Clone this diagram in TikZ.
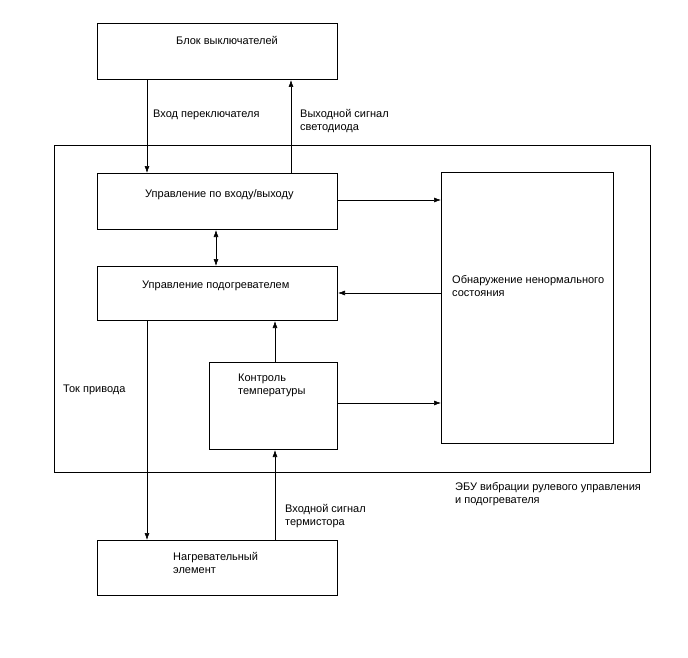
\documentclass[tikz,border=0pt]{standalone}
\usepackage{fontspec}
\setmainfont{Liberation Sans}
\usetikzlibrary{arrows.meta}
\begin{document}
\begin{tikzpicture}[x=1pt,y=-1pt,
  box/.style={draw,line width=1pt},
  conn/.style={line width=0.6pt},
  arr/.style={conn,-{Latex[length=7pt,width=5pt]}},
  darr/.style={conn,{Latex[length=7pt,width=5pt]}-{Latex[length=7pt,width=5pt]}},
  lbl/.style={font=\fontsize{11}{13}\selectfont,inner sep=0pt,align=left,anchor=base west},
  every node/.style={inner sep=0pt}]
\useasboundingbox (0,0) rectangle (688,658);
% boxes
\node[box,minimum width=240pt,minimum height=56pt,anchor=north west] (sw) at (97,23) {};
\node[box,minimum width=596pt,minimum height=327pt,anchor=north west] (ecu) at (54,145) {};
\node[box,minimum width=240pt,minimum height=56pt,anchor=north west] (io) at (97,173) {};
\node[box,minimum width=240pt,minimum height=54pt,anchor=north west] (hc) at (97,266) {};
\node[box,minimum width=172pt,minimum height=271pt,anchor=north west] (ab) at (441,172) {};
\node[box,minimum width=128pt,minimum height=87pt,anchor=north west] (tc) at (209,362) {};
\node[box,minimum width=240pt,minimum height=55pt,anchor=north west] (he) at (97,540) {};
% texts (base west = baseline of the last line)
\node[lbl] (t1) at (176,45) {Блок выключателей};
\node[lbl] (t2) at (145,197) {Управление по входу/выходу};
\node[lbl] (t3) at (142,288) {Управление подогревателем};
\node[lbl] (t4) at (452,296) {Обнаружение ненормального\\состояния};
\node[lbl] (t5) at (238,394) {Контроль\\температуры};
\node[lbl] (t6) at (173,573) {Нагревательный\\элемент};
\node[lbl] (l1) at (153,118) {Вход переключателя};
\node[lbl] (l2) at (300,131) {Выходной сигнал\\светодиода};
\node[lbl] (l3) at (63,392) {Ток привода};
\node[lbl] (l4) at (285,525) {Входной сигнал\\термистора};
\node[lbl] (l5) at (455,503) {ЭБУ вибрации рулевого управления\\и подогревателя};
% connectors
\draw[arr] (sw.south -| 147,0) -- (io.north -| 147,0);
\draw[arr] (io.north -| 291,0) -- (sw.south -| 291,0);
\draw[arr] (io.east |- 0,200) -- (ab.west |- 0,200);
\draw[darr] (io.south -| 216,0) -- (hc.north -| 216,0);
\draw[arr] (ab.west |- 0,293) -- (hc.east |- 0,293);
\draw[arr] (tc.north -| 275,0) -- (hc.south -| 275,0);
\draw[arr] (tc.east |- 0,403) -- (ab.west |- 0,403);
\draw[arr] (hc.south -| 147,0) -- (he.north -| 147,0);
\draw[arr] (he.north -| 275,0) -- (tc.south -| 275,0);
\end{tikzpicture}
\end{document}
